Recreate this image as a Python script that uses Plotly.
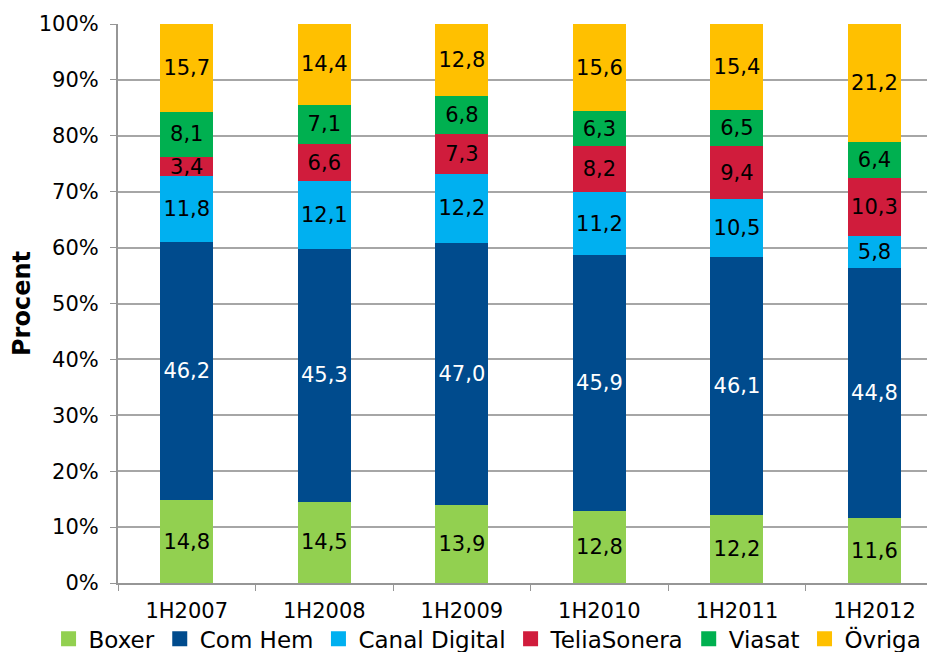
import plotly.graph_objects as go

periods = ['1H2007', '1H2008', '1H2009', '1H2010', '1H2011', '1H2012']
boxer = [14.8, 14.5, 13.9, 12.8, 12.2, 11.6]
com_hem = [46.2, 45.3, 47.0, 45.9, 46.1, 44.8]
canal_digital = [11.8, 12.1, 12.2, 11.2, 10.5, 5.8]
telia_sonera = [3.4, 6.6, 7.3, 8.2, 9.4, 10.3]
viasat = [8.1, 7.1, 6.8, 6.3, 6.5, 6.4]
ovriga = [15.7, 14.4, 12.8, 15.6, 15.4, 21.2]

series = [
    ('Boxer', boxer, '#92D050', 'black'),
    ('Com Hem', com_hem, '#004B8D', 'white'),
    ('Canal Digital', canal_digital, '#00B0F0', 'black'),
    ('TeliaSonera', telia_sonera, '#D01C3C', 'black'),
    ('Viasat', viasat, '#00B050', 'black'),
    ('Övriga', ovriga, '#FFC000', 'black'),
]

font = 'DejaVu Sans, Verdana, sans-serif'

fig = go.Figure()
for name, vals, color, tcolor in series:
    fig.add_trace(go.Bar(
        x=periods, y=vals, name=name, showlegend=False,
        marker=dict(color=color, line=dict(width=0)),
        text=[f'{v:.1f}'.replace('.', ',') for v in vals],
        textposition='inside', insidetextanchor='middle', textangle=0,
        textfont=dict(color=tcolor, size=21, family=font),
        hoverinfo='skip',
    ))

# legend-only entries so the square swatches can be bigger
for name, vals, color, tcolor in series:
    fig.add_trace(go.Scatter(
        x=[None], y=[None], name=name, mode='markers',
        marker=dict(symbol='square', size=15, color=color),
        hoverinfo='skip',
    ))

# page body has an 8px margin, so the figure is shifted by 8px
fig.update_layout(
    barmode='stack', barnorm='percent', bargap=0.615,
    width=927, height=644,
    margin=dict(l=110, r=0, t=16, b=69, autoexpand=False),
    paper_bgcolor='white', plot_bgcolor='white',
    font=dict(family=font, size=21, color='black'),
    uniformtext=dict(minsize=21, mode='show'),
    showlegend=True,
    legend=dict(orientation='h', traceorder='normal', x=-0.085, xanchor='left',
                y=-0.1, yanchor='middle', font=dict(size=23),
                bgcolor='rgba(0,0,0,0)',
                itemwidth=30, itemsizing='trace', tracegroupgap=0),
    xaxis=dict(range=[-0.5, 5.44], showgrid=False, showline=True, linecolor='#969696',
               linewidth=2, ticks='outside', tickson='boundaries', ticklen=6,
               tickcolor='#969696', tickfont=dict(size=21), tickangle=0,
               ticklabelstandoff=8, fixedrange=True),
    yaxis=dict(range=[0, 100], dtick=10, ticksuffix='%', showgrid=True,
               gridcolor='#A6A6A6', gridwidth=2, showline=True, linecolor='#969696',
               linewidth=2, ticks='outside', ticklen=6, tickcolor='#969696',
               tickfont=dict(size=21), zeroline=False, ticklabelstandoff=7,
               title=dict(text='<b>Procent</b>', font=dict(size=24), standoff=3)),
)

fig.write_html('out.html')
